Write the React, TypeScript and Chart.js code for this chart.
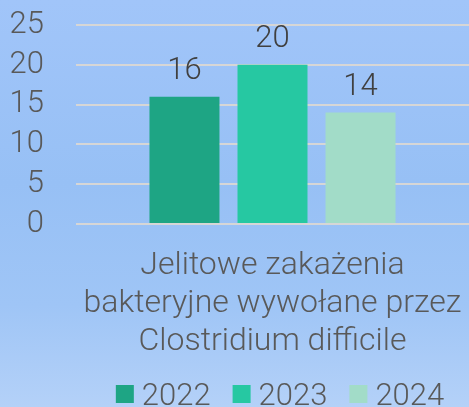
import React, { useEffect, useRef } from "react";
import { Chart, registerables } from "chart.js";

Chart.register(...registerables);

const categories: string[][] = [["Jelitowe zakażenia", "bakteryjne wywołane przez", "Clostridium difficile"]];
const seriesLabels = ["2022", "2023", "2024"];
const values2022 = [16];
const values2023 = [20];
const values2024 = [14];
const seriesColors = ["#1ea584", "#26c8a2", "#a2dcc8"];
const yMin = 0;
const yMax = 25;
const yStep = 5;

const FONT = "Roboto, 'DejaVu Sans', sans-serif";
const TEXT = "#595959";
const SIZE = 32;
const SMALL = 31;

const valueLabels = {
  id: "valueLabels",
  afterDatasetsDraw(chart: any) {
    const ctx = chart.ctx;
    ctx.save();
    ctx.font = `300 ${SMALL}px ${FONT}`;
    ctx.fillStyle = "#404040";
    ctx.textAlign = "center";
    ctx.textBaseline = "alphabetic";
    chart.data.datasets.forEach((ds: any, i: number) => {
      const meta = chart.getDatasetMeta(i);
      meta.data.forEach((bar: any, j: number) => {
        ctx.fillText(String(ds.data[j]), bar.x, bar.y - 18);
      });
    });
    ctx.restore();
  },
};

const bottomLegend = {
  id: "bottomLegend",
  afterDraw(chart: any) {
    const ctx = chart.ctx;
    ctx.save();
    ctx.font = `300 ${SMALL}px ${FONT}`;
    ctx.textBaseline = "alphabetic";
    ctx.textAlign = "left";
    const box = 18;
    const gapText = 8;
    const gapItem = 22;
    const items = chart.data.datasets.map((ds: any) => ({
      text: ds.label,
      color: ds.backgroundColor,
      w: box + gapText + ctx.measureText(ds.label).width,
    }));
    const total = items.reduce((s: number, it: any) => s + it.w, 0) + gapItem * (items.length - 1);
    let x = 280 - total / 2;
    const baseline = 405;
    items.forEach((it: any) => {
      ctx.fillStyle = it.color;
      ctx.fillRect(x, 385, box, box);
      ctx.fillStyle = TEXT;
      ctx.fillText(it.text, x + box + gapText, baseline);
      x += it.w + gapItem;
    });
    ctx.restore();
  },
};

function App() {
  const ref = useRef<HTMLCanvasElement | null>(null);
  useEffect(() => {
    document.body.style.margin = "0";
    const chart = new Chart(ref.current as HTMLCanvasElement, {
      type: "bar",
      data: {
        labels: categories,
        datasets: [
          { label: seriesLabels[0], data: values2022, backgroundColor: seriesColors[0] },
          { label: seriesLabels[1], data: values2023, backgroundColor: seriesColors[1] },
          { label: seriesLabels[2], data: values2024, backgroundColor: seriesColors[2] },
        ],
      },
      options: {
        animation: false,
        responsive: false,
        maintainAspectRatio: false,
        layout: { padding: { top: 25, right: 0, left: 0, bottom: 0 } },
        datasets: { bar: { categoryPercentage: 0.672, barPercentage: 0.795 } } as any,
        plugins: {
          legend: { display: false },
          tooltip: { enabled: false },
        },
        scales: {
          x: {
            grid: { display: false, drawTicks: false },
            border: { display: false },
            ticks: {
              color: TEXT,
              font: { family: FONT, size: SIZE, weight: "300" as any, lineHeight: "38px" as any },
              padding: 23,
              maxRotation: 0,
              autoSkip: false,
            },
            afterFit: (s: any) => {
              s.height = 183;
              s.paddingLeft = 0;
              s.paddingRight = 0;
            },
          },
          y: {
            min: yMin,
            max: yMax,
            grid: { color: "#d6d6d6", lineWidth: 2, drawTicks: false },
            border: { display: false },
            ticks: {
              stepSize: yStep,
              autoSkip: false,
              color: TEXT,
              font: { family: FONT, size: SMALL, weight: "300" as any },
              padding: 32,
            },
            afterFit: (s: any) => {
              s.width = 76;
              s.paddingTop = 0;
              s.paddingBottom = 0;
            },
          },
        },
      },
      plugins: [valueLabels, bottomLegend],
    });
    return () => chart.destroy();
  }, []);
  return (
    <div
      style={{
        position: "fixed",
        left: 0,
        top: 0,
        width: 469,
        height: 407,
        overflow: "hidden",
        background: "linear-gradient(180deg, #a1c5f9 0%, #97c0f5 45%, #9fc5f6 75%, #b4d1f8 100%)",
      }}
    >
      <canvas ref={ref} width={469} height={407} style={{ display: "block" }} />
    </div>
  );
}

export default App;
